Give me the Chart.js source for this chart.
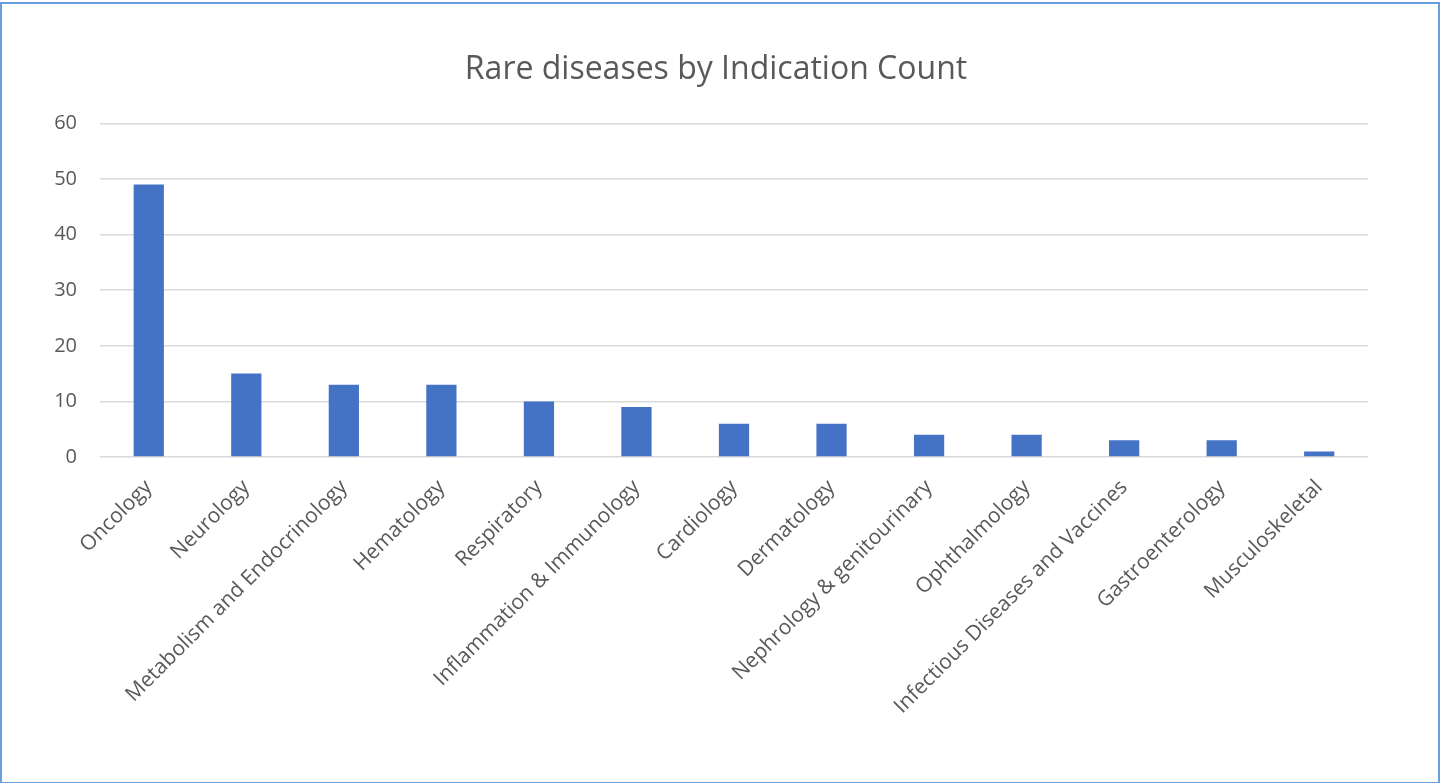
<!DOCTYPE html>
<html>
<head>
<meta charset="utf-8">
<script src="https://cdn.jsdelivr.net/npm/chart.js@4/dist/chart.umd.min.js"></script>
<style>
  html, body { margin: 0; padding: 0; background: #fff; }
  #wrap { position: relative; width: 1442px; height: 783px; }
  #frame { position: absolute; left: 0; top: 2px; width: 1436px; height: 778px; border: 2px solid #6a9fdc; pointer-events: none; }
</style>
</head>
<body>
<div id="wrap">
  <canvas id="indications" width="1442" height="783"></canvas>
  <div id="frame"></div>
</div>
<script>
// categories and counts
var categories = [
  'Oncology', 'Neurology', 'Metabolism and Endocrinology', 'Hematology',
  'Respiratory', 'Inflammation & Immunology', 'Cardiology', 'Dermatology',
  'Nephrology & genitourinary', 'Ophthalmology', 'Infectious Diseases and Vaccines',
  'Gastroenterology', 'Musculoskeletal'
];
var counts = [49, 15, 13, 13, 10, 9, 6, 6, 4, 4, 3, 3, 1];
var yTicks = [0, 10, 20, 30, 40, 50, 60];

Chart.defaults.font.family = "'Open Sans', sans-serif";
Chart.defaults.color = '#595959';

var chart = new Chart('indications', {
  type: 'bar',
  data: {
    labels: categories,
    datasets: [{
      label: 'Count',
      data: counts,
      backgroundColor: '#4472C4',
      borderWidth: 0,
      barPercentage: 0.62,
      categoryPercentage: 0.5
    }]
  },
  options: {
    responsive: false,
    animation: false,
    layout: { padding: { left: 0, right: 10, top: 0, bottom: 0 } },
    plugins: {
      legend: { display: false },
      tooltip: { enabled: false },
      title: {
        display: true,
        text: 'Rare diseases by Indication Count',
        font: { size: 32, weight: 'normal' },
        color: '#595959',
        padding: { top: 51, bottom: 34 }
      }
    },
    scales: {
      x: {
        grid: { display: false },
        border: { display: false },
        ticks: {
          font: { size: 21 },
          minRotation: 45,
          maxRotation: 45,
          autoSkip: false,
          padding: 10
        },
        afterFit: function(axis) { axis.height = 326; }
      },
      y: {
        min: 0,
        max: 60,
        afterBuildTicks: function(axis) {
          axis.ticks = yTicks.map(function(v) { return { value: v }; });
        },
        grid: { color: '#d9d9d9', lineWidth: 1.5, drawTicks: false },
        border: { display: false },
        ticks: { font: { size: 20 }, padding: 23 },
        afterFit: function(axis) { axis.width = 100; }
      },
      // empty right-hand spacer so the plot ends where the reference's does
      spacer: {
        position: 'right',
        grid: { display: false },
        border: { display: false },
        ticks: { display: false },
        afterFit: function(axis) { axis.width = 64; }
      }
    }
  }
});
</script>
</body>
</html>
